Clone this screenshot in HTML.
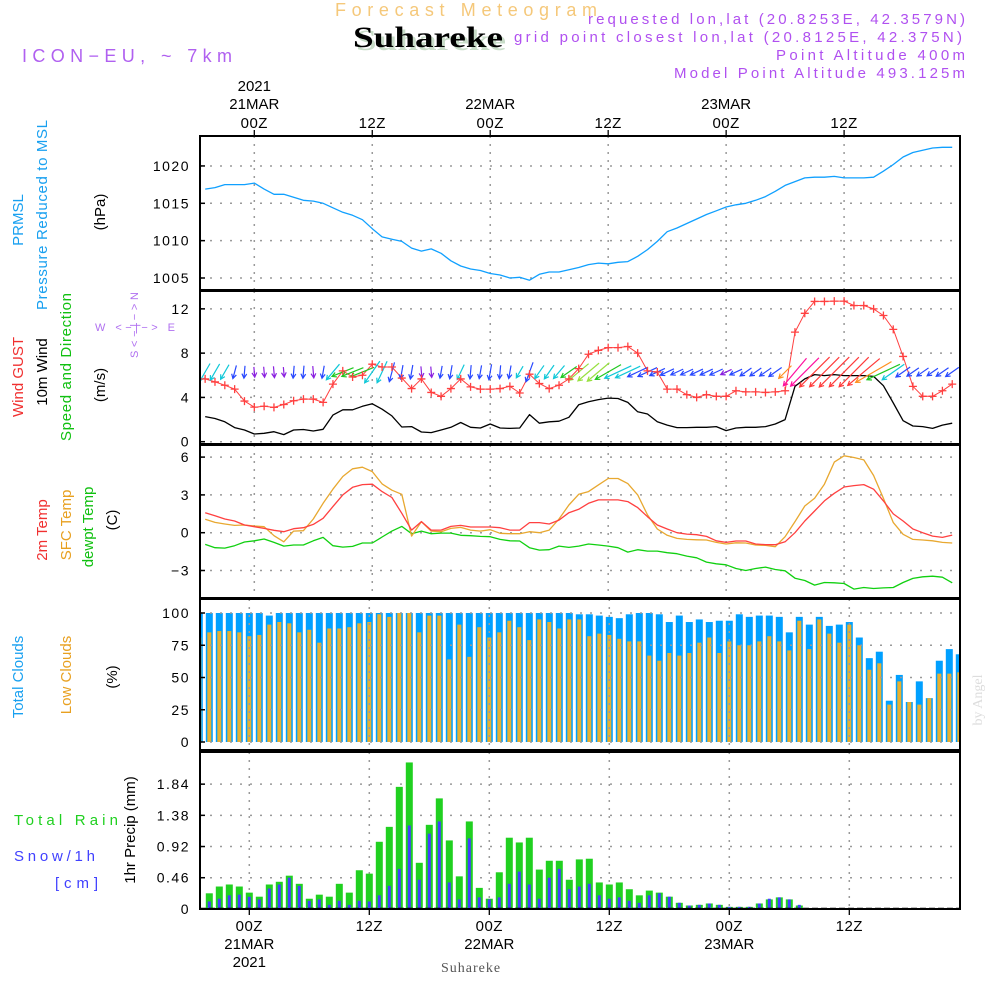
<!DOCTYPE html>
<html><head><meta charset="utf-8"><title>Meteogram Suhareke</title>
<style>
html,body{margin:0;padding:0;background:#fff;}
svg{display:block;font-family:"Liberation Sans",sans-serif;}
</style></head>
<body>
<svg id="chart" width="1000" height="1000" viewBox="0 0 1000 1000" xmlns="http://www.w3.org/2000/svg">
<rect width="1000" height="1000" fill="#fff"/>
<!-- header -->
<text x="466" y="16" text-anchor="middle" font-size="18" fill="#f5c87a" textLength="262" lengthAdjust="spacing">Forecast Meteogram</text>
<text x="431" y="50" text-anchor="middle" font-size="30" font-weight="bold" font-family="Liberation Serif,serif" fill="#c8dcc8" textLength="150" lengthAdjust="spacingAndGlyphs">Suhareke</text>
<text x="428" y="47" text-anchor="middle" font-size="30" font-weight="bold" font-family="Liberation Serif,serif" fill="#000" textLength="150" lengthAdjust="spacingAndGlyphs">Suhareke</text>
<text x="22" y="62" font-size="18" fill="#b060f0" textLength="210" lengthAdjust="spacing">ICON−EU, ~ 7km</text>
<g font-size="15" fill="#b050f0">
<text x="588" y="24" textLength="377" lengthAdjust="spacing">requested lon,lat (20.8253E, 42.3579N)</text>
<text x="514" y="42" textLength="448" lengthAdjust="spacing">grid point closest lon,lat (20.8125E, 42.375N)</text>
<text x="776" y="60" textLength="189" lengthAdjust="spacing">Point Altitude 400m</text>
<text x="674" y="78" textLength="291" lengthAdjust="spacing">Model Point Altitude 493.125m</text>
</g>
<!-- left labels -->
<g font-size="15">
<text transform="translate(23,220) rotate(-90)" text-anchor="middle" fill="#18a0f0">PRMSL</text>
<text transform="translate(47,215) rotate(-90)" text-anchor="middle" fill="#18a0f0" textLength="190">Pressure Reduced to MSL</text>
<text transform="translate(105,212) rotate(-90)" text-anchor="middle" fill="#000">(hPa)</text>
<text transform="translate(23,377) rotate(-90)" text-anchor="middle" fill="#f03030">Wind GUST</text>
<text transform="translate(47,372) rotate(-90)" text-anchor="middle" fill="#000">10m Wind</text>
<text transform="translate(71,367) rotate(-90)" text-anchor="middle" fill="#10c010" textLength="148">Speed and Direction</text>
<text transform="translate(105,385) rotate(-90)" text-anchor="middle" fill="#000">(m/s)</text>
<text x="95" y="331" font-size="11" fill="#b070f0" textLength="80" lengthAdjust="spacing">W  &lt;−|−&gt;  E</text>
<text transform="translate(138,358) rotate(-90)" font-size="11" fill="#b070f0" textLength="66" lengthAdjust="spacing">S&lt;−|−&gt;N</text>
<text transform="translate(47,530) rotate(-90)" text-anchor="middle" fill="#f03030">2m Temp</text>
<text transform="translate(71,525) rotate(-90)" text-anchor="middle" fill="#e8a020">SFC Temp</text>
<text transform="translate(93,527) rotate(-90)" text-anchor="middle" fill="#10c010">dewpt Temp</text>
<text transform="translate(117,520) rotate(-90)" text-anchor="middle" fill="#000">(C)</text>
<text transform="translate(23,677) rotate(-90)" text-anchor="middle" fill="#18a0f0">Total Clouds</text>
<text transform="translate(71,675) rotate(-90)" text-anchor="middle" fill="#e8a020">Low Clouds</text>
<text transform="translate(117,677) rotate(-90)" text-anchor="middle" fill="#000">(%)</text>
<text x="14" y="825" fill="#20d020" textLength="104" lengthAdjust="spacing">Total   Rain</text>
<text x="14" y="861" fill="#4040ff" textLength="81" lengthAdjust="spacing">Snow/1h</text>
<text x="55" y="888" fill="#4040ff" textLength="43" lengthAdjust="spacing">[cm]</text>
<text transform="translate(135,830) rotate(-90)" text-anchor="middle" fill="#000">1hr Precip (mm)</text>
<text transform="translate(982,700) rotate(-90)" text-anchor="middle" font-family="Liberation Serif,serif" font-size="14" fill="#ddd">by Angel</text>
<text x="471" y="972" text-anchor="middle" font-family="Liberation Serif,serif" font-size="14" fill="#555" letter-spacing="1">Suhareke</text>
</g>
<g id="plots"></g>
</svg>
<script>
const hours = [];
for (let h = -5; h <= 71; h++) hours.push(h);
const pressure = [1016.9,1017.1,1017.5,1017.5,1017.5,1017.7,
1016.9,1016.2,1016.2,1015.8,1015.4,1015.3,1015.0,1014.4,1013.8,1013.4,
1012.8,1011.6,1010.5,1010.2,1009.9,1009.0,1008.6,1008.9,1008.3,1007.3,
1006.6,1006.2,1006.0,1005.6,1005.4,1005.0,1005.1,1004.7,1005.5,1005.8,
1005.8,1006.1,1006.4,1006.8,1007.0,1006.9,1007.1,1007.2,1007.9,1008.8,
1009.9,1011.2,1011.7,1012.3,1012.9,1013.5,1014.0,1014.5,1014.8,1015.0,
1015.4,1015.9,1016.6,1017.4,1017.9,1018.4,1018.5,1018.5,1018.6,1018.4,
1018.4,1018.4,1018.5,1019.3,1020.2,1021.2,1021.8,1022.1,1022.4,1022.5,1022.5];
const gust = [5.67,5.4,5.1,4.75,3.67,3.12,
3.2,3.1,3.36,3.7,3.85,3.85,3.55,5.2,6.4,5.85,
6.0,7.0,6.75,6.75,5.75,4.8,5.67,4.45,4.1,4.8,
5.67,4.95,4.75,4.75,4.8,5.0,4.4,6.1,5.25,4.8,
5.1,5.67,6.6,7.9,8.25,8.5,8.5,8.6,8.0,6.4,
6.3,4.75,4.75,4.25,4.0,4.25,4.1,4.1,4.6,4.5,
4.5,4.45,4.5,4.6,9.9,11.6,12.67,12.67,12.7,12.7,
12.3,12.3,12.0,11.4,10.15,7.7,5.0,4.1,4.1,4.6,5.2];
const windSpeed = [2.27,2.1,1.8,1.27,1.06,0.7,
0.76,0.9,0.64,1.06,1.1,0.97,1.12,2.4,2.88,2.88,
3.2,3.42,2.94,2.33,1.33,1.36,0.88,0.82,1.06,1.3,
1.73,1.3,1.24,1.6,1.24,1.2,1.24,2.45,1.67,1.8,
1.85,2.2,3.33,3.6,3.8,3.94,3.9,3.55,2.7,2.5,
1.8,1.5,1.27,1.27,1.3,1.3,1.36,1.0,1.24,1.3,
1.3,1.36,1.6,2.0,5.0,5.67,6.06,5.97,6.06,5.97,
5.97,5.97,5.9,5.06,3.5,1.9,1.42,1.36,1.2,1.5,1.67];
const windDir = [30,30,30,15,5,-5,
-5,-5,-5,5,5,-5,10,40,68,68,
68,35,25,15,10,10,-5,-5,10,10,
25,5,10,10,5,10,30,20,35,35,
40,55,50,50,50,60,65,65,65,65,
65,65,65,65,65,65,65,65,65,55,
55,55,55,45,40,45,45,45,45,45,
45,50,60,65,55,55,55,55,55,55,55];
const windCat = ["c","c","c","b","b","p",
"p","p","p","b","b","p","b","c","g","g",
"g","c","c","b","b","b","p","p","b","b",
"c","b","b","b","b","b","c","b","c","c",
"c","g","y","y","y","g","c","c","b","b",
"b","b","b","b","b","b","b","p","b","b",
"b","b","b","o","m","m","r","r","r","r",
"r","r","o","g","c","b","b","b","b","b","b"];
const t2m = [1.59,1.35,1.09,0.93,0.61,0.48,
0.34,0.19,0.08,0.32,0.4,0.66,1.14,2.07,3.0,3.6,
3.82,3.85,3.26,2.79,1.54,0.21,0.88,0.21,0.21,0.5,
0.58,0.45,0.45,0.45,0.4,0.21,0.21,0.8,0.8,0.69,
1.0,1.59,1.86,2.33,2.6,2.6,2.6,2.47,1.99,1.27,
0.61,0.29,0,-0.11,-0.16,-0.29,-0.64,-0.77,-0.66,-0.66,
-0.9,-0.95,-0.95,-0.72,0,0.93,1.72,2.52,3.13,3.63,
3.74,3.82,3.45,2.52,1.49,0.93,0.29,0,-0.27,-0.37,-0.19];
const tsfc = [1.06,0.82,0.69,0.58,0.61,0.53,
0.48,-0.24,-0.72,0.13,0.16,1.09,2.33,3.45,4.46,5.07,
5.2,4.85,3.87,3.37,3.05,-0.27,0.88,0.13,0.08,0.34,
0.42,0.21,0.13,0.24,-0.05,-0.08,-0.08,0.08,0,0.21,
1.09,2.2,3.05,3.26,3.79,4.3,4.3,3.9,3.0,1.41,
0.29,-0.21,-0.45,-0.53,-0.56,-0.58,-0.77,-0.9,-0.8,-0.82,
-0.98,-1.01,-1.11,-0.32,0.88,2.12,2.73,3.85,5.6,6.1,
5.97,5.78,4.54,2.73,0.8,-0.13,-0.53,-0.58,-0.64,-0.77,-0.82];
const dewpt = [-0.93,-1.19,-1.22,-1.03,-0.74,-0.64,
-0.5,-0.77,-1.06,-0.98,-0.98,-0.64,-0.37,-1.03,-1.14,-1.09,
-0.82,-0.82,-0.34,0.13,0.5,-0.08,0.13,-0.08,-0.03,-0.03,
-0.21,-0.24,-0.29,-0.32,-0.53,-0.64,-0.66,-1.19,-1.38,-1.35,
-1.06,-1.17,-1.06,-0.9,-0.98,-1.06,-1.19,-1.54,-1.35,-1.46,
-1.46,-1.59,-1.67,-1.86,-1.99,-2.33,-2.47,-2.55,-2.84,-3.0,
-2.84,-2.73,-2.92,-3.02,-3.61,-3.79,-4.16,-3.95,-3.98,-4.03,
-4.48,-4.35,-4.43,-4.38,-4.35,-3.95,-3.63,-3.5,-3.45,-3.53,-3.98];
const totalClouds = [100,100,100,100,100,100,100,98,100,100,100,100,100,100,100,100,100,100,100,100,100,100,100,100,100,100,100,100,100,100,
100,100,100,100,100,100,100,100,99,99,98,97,96,99,100,100,99,93,98,93,95,93,94,94,99,97,98,98,97,85,
97,91,97,90,91,93,81,65,70,32,52,31,47,34,63,72,68];
const lowClouds = [81,85,86,86,85,82,83,91,93,92,85,87,77,88,88,89,92,93,99,97,100,100,85,98,98,64,91,66,89,81,
85,94,89,79,95,93,88,95,95,82,84,83,80,78,78,67,63,69,67,69,77,81,69,78,75,75,78,82,78,71,
94,72,95,84,77,91,75,56,61,29,47,31,29,34,53,53,54];
const rain = [0,0.23,0.33,0.36,0.33,0.24,0.18,0.36,0.40,0.49,0.37,0.15,0.21,0.18,0.37,0.24,0.57,0.52,0.99,1.21,1.80,2.16,0.68,1.24,1.63,1.01,0.48,1.29,0.31,0.15,
0.54,1.05,0.98,1.05,0.58,0.71,0.71,0.43,0.73,0.74,0.39,0.36,0.39,0.29,0.20,0.27,0.24,0.18,0.09,0.05,0.06,0.08,0.06,0.03,0.03,0.03,0.08,0.14,0.17,0.14,
0.05,0,0,0,0,0,0,0,0,0,0,0,0,0,0,0,0];
const snow = [0,0.11,0.15,0.20,0.21,0.18,0.14,0.30,0.36,0.46,0.34,0.12,0.14,0.06,0.12,0.06,0.12,0.11,0.20,0.34,0.59,1.23,0.43,1.11,1.29,0.39,0.14,1.04,0.17,0.14,
0.17,0.37,0.55,0.36,0.15,0.46,0.59,0.29,0.33,0.37,0.20,0.15,0.17,0.12,0.09,0.20,0.23,0.18,0.09,0.05,0.06,0.08,0.06,0.03,0.03,0.03,0.08,0.15,0.17,0.14,
0.06,0.01,0,0,0,0,0,0,0,0,0,0,0,0,0,0,0];
const pressureTicks = [1005,1010,1015,1020];
const windTicks = [0,4,8,12];
const tempTicks = [-3,0,3,6];
const cloudTicks = [0,25,50,75,100];
const precipTicks = [0,0.46,0.92,1.38,1.84];
const gridHours = [0,12,24,36,48,60];
const topTimeLabels = ["00Z","12Z","00Z","12Z","00Z","12Z"];
const dateLabels = ["21MAR","","22MAR","","23MAR",""];

const NS = "http://www.w3.org/2000/svg";
const root = document.getElementById("plots");
function el(tag, attrs, parent) {
  const e = document.createElementNS(NS, tag);
  for (const k in attrs) e.setAttribute(k, attrs[k]);
  (parent || root).appendChild(e);
  return e;
}
const X0 = 200, X1 = 960;
const xTop = h => 254.3 + 9.83 * h;
const xBot = h => 249.3 + 10 * h;
const yP = v => 278 - (v - 1005) * 7.47;
const yW = v => 441.7 - v * 11.07;
const yT = v => 532.7 - v * 12.6;
const yC = v => 742 - v * 1.29;
const yR = v => 908.9 - v * 67.8;

const panels = [
  {name:"pressure-panel", y0:136, y1:290},
  {name:"wind-panel", y0:291, y1:444},
  {name:"temperature-panel", y0:445, y1:598},
  {name:"clouds-panel", y0:599, y1:750},
  {name:"precip-panel", y0:752, y1:909}
];
const defs = el("defs", {});
panels.forEach((p, i) => {
  const cp = el("clipPath", {id: "clip" + i}, defs);
  el("rect", {x: X0, y: p.y0, width: X1 - X0, height: p.y1 - p.y0}, cp);
});

function panelGroup(i) {
  const g = el("g", {"clip-path": "url(#clip" + i + ")"});
  
  
  return g;
}
function grid(g, i, ticks, yf, xf) {
  const p = panels[i];
  ticks.forEach(t => {
    const l = el("line", {x1: X0, x2: X1, y1: yf(t), y2: yf(t), stroke: "#9a9a9a", "stroke-width": 1.5, "stroke-dasharray": "2 8"}, g);
    
    
  });
  gridHours.forEach(h => {
    const l = el("line", {x1: xf(h), x2: xf(h), y1: p.y0, y2: p.y1, stroke: "#9a9a9a", "stroke-width": 1.5, "stroke-dasharray": "2 6"}, g);
    
    
  });
}
function tickLabels(ticks, yf, fmt, name) {
  ticks.forEach(t => {
    const tx = el("text", {x: 190, y: yf(t) + 5, "text-anchor": "end", "font-size": 14, "letter-spacing": 1.5, fill: "#000"});
    tx.textContent = fmt(t);
    
    
    const tk = el("line", {x1: X0, x2: X0 + 5, y1: yf(t), y2: yf(t), stroke: "#000", "stroke-width": 1.5});
    
    
  });
}
function line(g, vals, xf, yf, color, name, w) {
  const d = vals.map((v, i) => (i ? "L" : "M") + xf(hours[i]).toFixed(1) + "," + yf(v).toFixed(1)).join("");
  const p = el("path", {d: d, fill: "none", stroke: color, "stroke-width": w || 1.3, "stroke-linejoin": "round"}, g);
  
  
  return p;
}

// Pressure
let g = panelGroup(0);
grid(g, 0, pressureTicks, yP, xTop);
line(g, pressure, xTop, yP, "#10a0ff", "prmsl-line", 1.3);
tickLabels(pressureTicks, yP, v => String(v), "pressure-tick-label");

// Wind
g = panelGroup(1);
grid(g, 1, windTicks, yW, xTop);
line(g, windSpeed, xTop, yW, "#000", "wind-speed-line", 1.3);
line(g, gust, xTop, yW, "#ff4040", "gust-line", 1);
const catColor = {c:"#10c8d8", b:"#2848ff", p:"#8a20e0", g:"#20c820", y:"#98e040", o:"#ff9020", m:"#ff10a0", r:"#ff3a3a"};
hours.forEach((h, i) => {
  const L = 6 + 6 * windSpeed[i];
  const a = windDir[i] * Math.PI / 180;
  const dx = -Math.sin(a) * L, dy = Math.cos(a) * L;
  const cx = xTop(h), cy = 372;
  const x1 = cx - dx / 2, y1 = cy - dy / 2, x2 = cx + dx / 2, y2 = cy + dy / 2;
  const ang = Math.atan2(dy, dx);
  const hl = 5;
  const ax = x2 - hl * Math.cos(ang - 0.5), ay = y2 - hl * Math.sin(ang - 0.5);
  const bx = x2 - hl * Math.cos(ang + 0.5), by = y2 - hl * Math.sin(ang + 0.5);
  const col = catColor[windCat[i]];
  const ar = el("path", {d: `M${x1},${y1}L${x2},${y2}M${ax},${ay}L${x2},${y2}L${bx},${by}`, fill: "none", stroke: col, "stroke-width": 1.2}, g);
  
  
});
hours.forEach((h, i) => {
  const x = xTop(h), y = yW(gust[i]);
  const pl = el("path", {d: `M${x-4},${y}L${x+4},${y}M${x},${y-4}L${x},${y+4}`, stroke: "#ff4040", "stroke-width": 1.3}, g);
  
  
});
tickLabels(windTicks, yW, v => String(v), "wind-tick-label");

// Temperature
g = panelGroup(2);
grid(g, 2, tempTicks, yT, xTop);
line(g, dewpt, xTop, yT, "#10d010", "dewpt-line", 1.3);
line(g, tsfc, xTop, yT, "#e8a830", "sfc-temp-line", 1.3);
line(g, t2m, xTop, yT, "#ff4040", "t2m-line", 1.3);
tickLabels(tempTicks, yT, v => v < 0 ? "−" + Math.abs(v) : String(v), "temp-tick-label");

// Clouds
g = panelGroup(3);
hours.forEach((h, i) => {
  const x = xBot(h);
  const b = el("rect", {x: x - 3.5, y: yC(totalClouds[i]), width: 7, height: yC(0) - yC(totalClouds[i]), fill: "#00a0ff"}, g);
  
  
  const l = el("rect", {x: x - 2, y: yC(lowClouds[i]), width: 4, height: yC(0) - yC(lowClouds[i]), fill: "#e8b030"}, g);
  
  
});
grid(g, 3, cloudTicks, yC, xBot);
tickLabels(cloudTicks, yC, v => String(v), "cloud-tick-label");

// Precip
g = panelGroup(4);
grid(g, 4, precipTicks.slice(1), yR, xBot);
hours.forEach((h, i) => {
  const x = xBot(h);
  if (rain[i] > 0) {
    const b = el("rect", {x: x - 3.5, y: yR(rain[i]), width: 7, height: yR(0) - yR(rain[i]), fill: "#20d020"}, g);
    
    
  }
  if (snow[i] > 0) {
    const s = el("rect", {x: x - 1.5, y: yR(snow[i]), width: 3, height: yR(0) - yR(snow[i]), fill: "#4040ff"}, g);
    
    
  }
});
el("line", {x1: X0, x2: X1, y1: 908.5, y2: 908.5, stroke: "#000", "stroke-width": 1.5, "stroke-dasharray": "6 3"}, g);
tickLabels(precipTicks, yR, v => v === 0 ? "0" : v.toFixed(2), "precip-tick-label");

// Frames
panels.forEach(p => {
  const r = el("rect", {x: X0, y: p.y0, width: X1 - X0, height: p.y1 - p.y0, fill: "none", stroke: "#000", "stroke-width": 2});
  
  
});

// Time axes
gridHours.forEach((h, i) => {
  const xt = xTop(h);
  const tk = el("line", {x1: xt, x2: xt, y1: 130, y2: 136, stroke: "#000", "stroke-width": 1.3});
  
  
  const t1 = el("text", {x: xt, y: 128, "text-anchor": "middle", "font-size": 15, fill: "#000", "letter-spacing": 0.5});
  t1.textContent = topTimeLabels[i];
  
  
  if (dateLabels[i]) {
    const t2 = el("text", {x: xt, y: 109, "text-anchor": "middle", "font-size": 15, fill: "#000"});
    t2.textContent = dateLabels[i];
    
    
  }
  const xb = xBot(h);
  const bk = el("line", {x1: xb, x2: xb, y1: 909, y2: 915, stroke: "#000", "stroke-width": 1.3});
  
  
  const b1 = el("text", {x: xb, y: 931, "text-anchor": "middle", "font-size": 15, fill: "#000", "letter-spacing": 0.5});
  b1.textContent = topTimeLabels[i];
  
  
  if (dateLabels[i]) {
    const b2 = el("text", {x: xb, y: 949, "text-anchor": "middle", "font-size": 15, fill: "#000"});
    b2.textContent = dateLabels[i];
    
    
  }
});
const yrTop = el("text", {x: xTop(0), y: 91, "text-anchor": "middle", "font-size": 15, fill: "#000"});
yrTop.textContent = "2021";


const yrBot = el("text", {x: xBot(0), y: 967, "text-anchor": "middle", "font-size": 15, fill: "#000"});
yrBot.textContent = "2021";


</script>
</body></html>
